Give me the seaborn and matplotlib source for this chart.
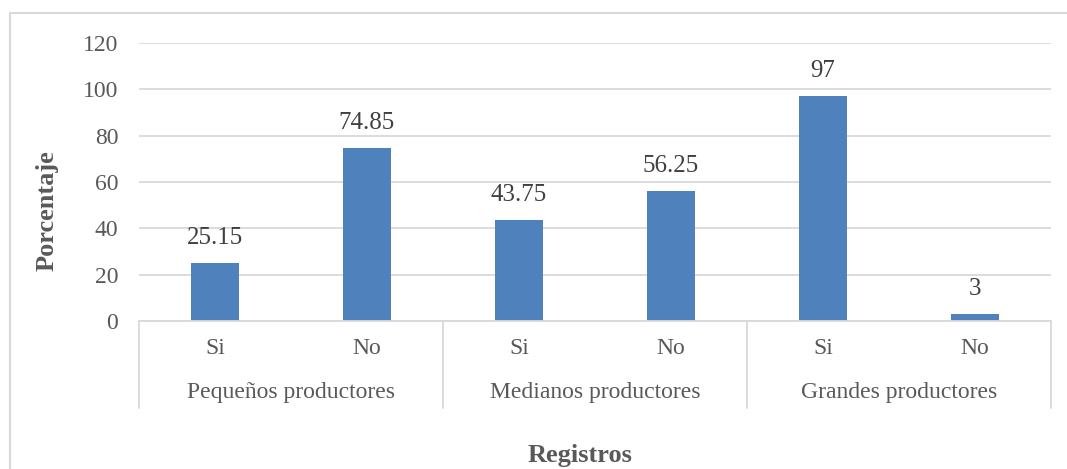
import matplotlib
matplotlib.use("Agg")
import matplotlib.pyplot as plt
import matplotlib.transforms as mtransforms
from matplotlib.patches import Rectangle
import seaborn as sns
import pandas as pd

# Data: share of producers with / without records, by producer size
grupos = ["Pequeños productores", "Medianos productores", "Grandes productores"]
registros = ["Si", "No"]
porcentaje = [25.15, 74.85, 43.75, 56.25, 97, 3]
etiquetas = ["25.15", "74.85", "43.75", "56.25", "97", "3"]

filas = []
for gi, g in enumerate(grupos):
    for ri, r in enumerate(registros):
        filas.append({"grupo": g, "registro": r,
                      "clave": f"{g}|{r}",
                      "valor": porcentaje[gi * 2 + ri]})
df = pd.DataFrame(filas)

sns.set_theme(style="white")
plt.rcParams["font.family"] = ["Liberation Serif", "DejaVu Serif"]

TEXT = "#595959"
GRID = "#D9D9D9"
BAR = "#4F81BD"

fig = plt.figure(figsize=(10.67, 4.69), dpi=100)
ax = fig.add_axes([139 / 1067, 1 - 321 / 469, (1051 - 139) / 1067, (321 - 43) / 469])

sns.barplot(data=df, x="clave", y="valor", order=df["clave"].tolist(),
            color=BAR, saturation=1, width=0.316, ax=ax, edgecolor="none")

ax.set_ylim(0, 120)
ax.set_xlim(-0.5, 5.5)
ax.set_yticks(range(0, 121, 20))
ax.tick_params(axis="y", labelsize=17, labelcolor=TEXT, length=0, pad=15)
ax.set_xticks(range(6))
ax.set_xticklabels(df["registro"].tolist())
ax.tick_params(axis="x", labelsize=17, labelcolor=TEXT, length=0, pad=12)
ax.yaxis.grid(True, color=GRID, linewidth=1.3)
ax.set_axisbelow(True)
for s in ["top", "right", "left"]:
    ax.spines[s].set_visible(False)
ax.spines["bottom"].set_color(GRID)
ax.spines["bottom"].set_linewidth(1.3)

ax.set_xlabel("")
ax.set_ylabel("")

# value labels
for i, (v, t) in enumerate(zip(porcentaje, etiquetas)):
    ax.annotate(t, (i, v), xytext=(0, 10), textcoords="offset points",
                ha="center", va="bottom", fontsize=18, color="#404040")

# group labels and separators under the category axis
trans = mtransforms.blended_transform_factory(ax.transData, ax.transAxes)
for gi, g in enumerate(grupos):
    ax.text(gi * 2 + 0.5, -(392 - 321) / 278, g, transform=trans,
            ha="center", va="center", fontsize=17, color=TEXT)
for xs in [-0.5, 1.5, 3.5, 5.5]:
    ax.plot([xs, xs], [0, -(408 - 321) / 278], transform=trans, color=GRID,
            linewidth=1.3, clip_on=False)

fig.text(47 / 1067, 1 - 211 / 469, "Porcentaje", rotation=90, ha="center",
         va="center", fontsize=19, fontweight="bold", color=TEXT)
fig.text(580 / 1067, 1 - 455 / 469, "Registros", ha="center", va="center",
         fontsize=19, fontweight="bold", color=TEXT)

# chart area frame
fig.patches.append(Rectangle((10 / 1067, -0.05), 1.2, 1 - 13 / 469 + 0.05,
                             transform=fig.transFigure, fill=False,
                             edgecolor=GRID, linewidth=1.5))

fig.savefig("out.png", dpi=100, facecolor="white")
